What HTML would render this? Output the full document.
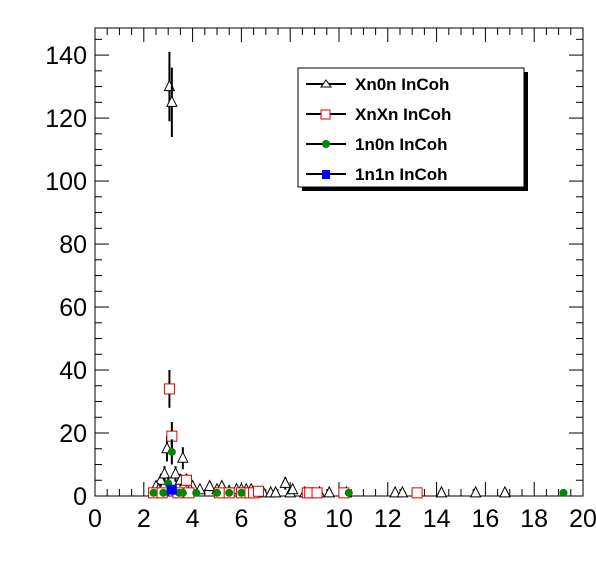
<!DOCTYPE html>
<html><head><meta charset="utf-8"><style>
body{margin:0;background:#fff;}
svg{display:block;font-family:"Liberation Sans",Arial,sans-serif;}
</style></head><body>
<svg id="c" width="596" height="572" xmlns="http://www.w3.org/2000/svg"></svg>
<script>
const xn0nX=[3.05,3.15,2.95,3.6,2.7,2.85,3.3,3.5,3.75,4.0,2.5,2.6,3.9,4.3,4.7,5.0,5.2,5.5,5.8,6.0,6.2,6.4,6.6,6.9,7.2,7.4,7.8,8.0,8.1,8.6,9.2,9.6,10.3,12.3,12.6,14.2,15.6,16.8];
const xn0nY=[130,125,15,12,5,7,7,5,5,3,3,2,2,2,3,2,3,1.5,2,2,2,2,1,1,1,1,4,1,2,1,1,1,1,1,1,1,1,1];
const xn0nE=[11,11,4,3.5,2,2.5,2.5,2,2,1.5,1.5,1,1,1,1.5,1,1.5,1,1,1,1,1,1,1,1,1,2,1,1,1,1,1,1,1,1,1,1,1];
const xnxnX=[3.05,3.15,3.75,2.4,2.75,3.4,3.85,5.1,5.5,6.0,6.35,6.5,6.7,8.7,8.8,9.1,10.2,13.2];
const xnxnY=[34,19,5,1,1,1,1,1,1,1,1,1,1.5,1,1,1,1,1];
const xnxnE=[6,4.5,2,1,1,1,1,1,1,1,1,1,1,1,1,1,1,1];
const n10X=[3.15,3.0,2.4,2.8,3.45,3.6,4.15,5.0,5.5,6.0,10.4,19.2];
const n10Y=[14,4,1,1,1,1,1,1,1,1,1,1];
const n10E=[4,2,1,1,1,1,1,1,1,1,1,1];
const n11X=[3.15];
const n11Y=[2];
const n11E=[1.4];
const xTicks=[0,2,4,6,8,10,12,14,16,18,20];
const yTicks=[0,20,40,60,80,100,120,140];

const L=95,R=583,T=28,B=496,XMAX=20,YMAX=148.6;
const sx=v=>L+(R-L)*v/XMAX, sy=v=>B-(B-T)*v/YMAX;
const svg=document.getElementById('c');const NS='http://www.w3.org/2000/svg';
function mk(t,a,p){const e=document.createElementNS(NS,t);for(const k in a)e.setAttribute(k,a[k]);(p||svg).appendChild(e);return e;}
const frame=mk('rect',{x:L,y:T,width:R-L,height:B-T,fill:'none',stroke:'#000','stroke-width':1});


for(let i=0;i<=40;i++){const v=i*0.5,x=sx(v),len=(i%4===0)?14:7;
mk('line',{x1:x,y1:B,x2:x,y2:B-len,stroke:'#000'});mk('line',{x1:x,y1:T,x2:x,y2:T+len,stroke:'#000'});}
xTicks.forEach(v=>{const t=mk('text',{x:sx(v),y:B+31,'font-size':25,'text-anchor':'middle'});t.textContent=v;

});
for(let i=0;i<=29;i++){const v=i*5,y=sy(v),len=(i%4===0)?14:7;if(v>YMAX)break;
mk('line',{x1:L,y1:y,x2:L+len,y2:y,stroke:'#000'});mk('line',{x1:R,y1:y,x2:R-len,y2:y,stroke:'#000'});}
yTicks.forEach(v=>{const t=mk('text',{x:L-8,y:sy(v)+9,'font-size':25,'text-anchor':'end'});t.textContent=v;

});
function series(X,Y,E,kind,name){const g=mk('g',{});


X.forEach((xv,i)=>{const x=sx(xv),y=sy(Y[i]);
mk('line',{x1:x,y1:sy(Y[i]+E[i]),x2:x,y2:Math.min(B,sy(Y[i]-E[i])),stroke:'#000','stroke-width':2},g);
let m;
if(kind==='tri')m=mk('polygon',{points:`${x-5},${y+4} ${x+5},${y+4} ${x},${y-6}`,fill:'#fff',stroke:'#000'},g);
else if(kind==='sq')m=mk('rect',{x:x-5,y:y-5,width:10,height:10,fill:'#fff',stroke:'#e00000'},g);
else if(kind==='dot')m=mk('circle',{cx:x,cy:y,r:4,fill:'#008800'},g);
else m=mk('rect',{x:x-5,y:y-5,width:10,height:10,fill:'#0000ff'},g);

});}
series(xn0nX,xn0nY,xn0nE,'tri','series-xn0n');
series(xnxnX,xnxnY,xnxnE,'sq','series-xnxn');
series(n10X,n10Y,n10E,'dot','series-1n0n');
series(n11X,n11Y,n11E,'blu','series-1n1n');
const lg=mk('g',{});


mk('rect',{x:302,y:72,width:226,height:119,fill:'#000'},lg);
mk('rect',{x:298,y:68,width:226,height:119,fill:'#fff',stroke:'#000'},lg);
const names=['Xn0n InCoh','XnXn InCoh','1n0n InCoh','1n1n InCoh'];
names.forEach((n,i)=>{const y=84+i*30;const g=mk('g',{},lg);


mk('line',{x1:306,y1:y,x2:346,y2:y,stroke:'#000','stroke-width':2},g);
if(i===0)mk('polygon',{points:'321,87 331,87 326,80',fill:'#fff',stroke:'#000'},g);
if(i===1)mk('rect',{x:321,y:y-4,width:9,height:9,fill:'#fff',stroke:'#e00000'},g);
if(i===2)mk('circle',{cx:326,cy:y,r:4,fill:'#008800'},g);
if(i===3)mk('rect',{x:322,y:y-4,width:8,height:9,fill:'#0000ff'},g);
const t=mk('text',{x:355,y:y+6,'font-size':17,'font-weight':'bold'},g);t.textContent=n;});
</script>
</body></html>
